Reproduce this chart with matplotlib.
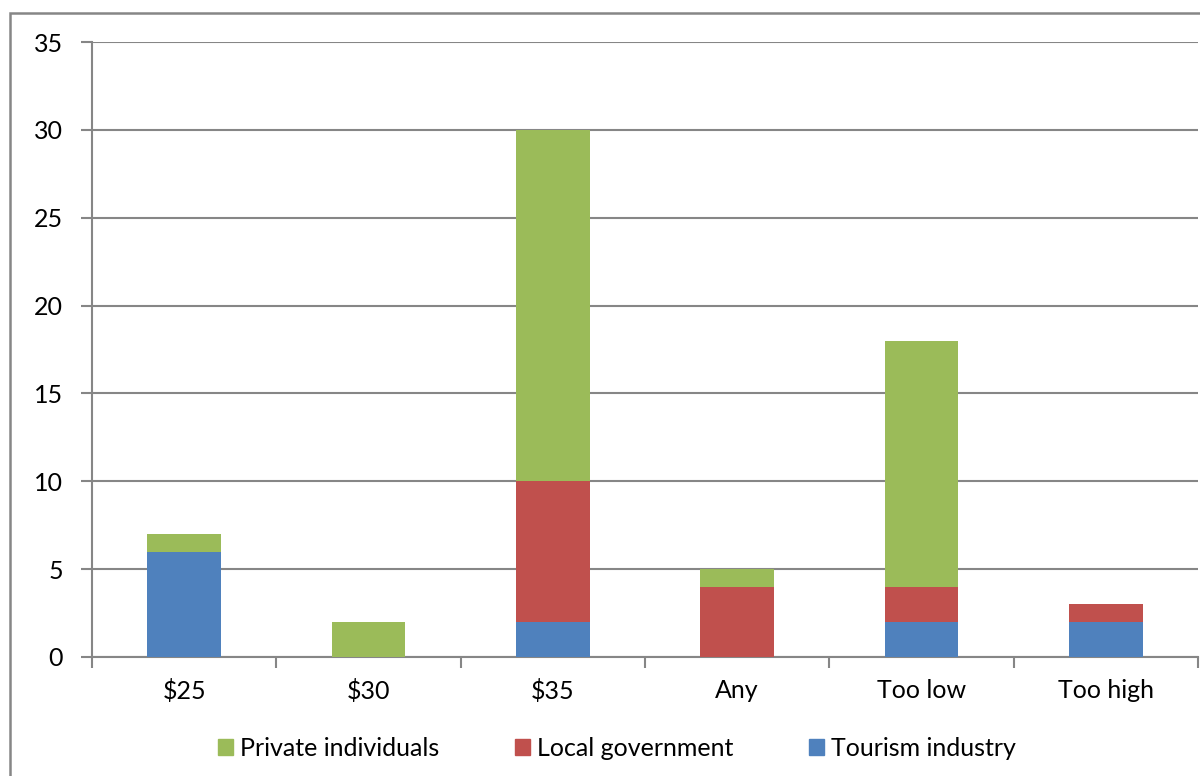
import matplotlib.pyplot as plt
from matplotlib.patches import Rectangle, Patch
import numpy as np

plt.rcParams['font.family'] = ['Lato', 'DejaVu Sans']

categories = ['$25', '$30', '$35', 'Any', 'Too low', 'Too high']
tourism = [6, 0, 2, 0, 2, 2]
local_gov = [0, 0, 8, 4, 2, 1]
private = [1, 2, 20, 1, 14, 0]

blue = '#4F81BD'
red = '#C0504D'
green = '#9BBB59'
grey = '#868686'

fig = plt.figure(figsize=(12, 7.76), dpi=100)
# outer chart border (cropped on the right and bottom)
fig.patches.append(Rectangle((10 / 1200, -0.1), 1.2, 1 - 13 / 776 + 0.1,
                             transform=fig.transFigure, fill=False,
                             edgecolor=grey, linewidth=1.8))

ax = fig.add_axes([92 / 1200, 1 - 657 / 776, (1198 - 92) / 1200, (657 - 42) / 776])
x = np.arange(len(categories))
w = 0.4
t = np.array(tourism)
l = np.array(local_gov)
p = np.array(private)
ax.bar(x, t, w, color=blue, zorder=3)
ax.bar(x, l, w, bottom=t, color=red, zorder=3)
ax.bar(x, p, w, bottom=t + l, color=green, zorder=3)

ax.set_xlim(-0.5, len(categories) - 0.5)
ax.set_ylim(0, 35)
ax.set_yticks(range(0, 36, 5))
ax.yaxis.grid(True, color=grey, linewidth=1.5)
ax.set_axisbelow(True)
for s in ['top', 'right']:
    ax.spines[s].set_visible(False)
for s in ['left', 'bottom']:
    ax.spines[s].set_color(grey)
    ax.spines[s].set_linewidth(1.5)

ax.set_xticks(x)
ax.set_xticklabels(categories, fontsize=18)
ax.tick_params(axis='x', length=0, pad=16)
ax.set_xticks(np.arange(-0.5, len(categories)), minor=True)
ax.tick_params(axis='x', which='minor', length=8, width=1.5, color=grey)
ax.tick_params(axis='y', length=8, width=1.5, color=grey, labelsize=18, pad=13)

handles = [Patch(color=green, label='Private individuals'),
           Patch(color=red, label='Local government'),
           Patch(color=blue, label='Tourism industry')]
fig.legend(handles=handles, loc='center', bbox_to_anchor=(617 / 1200, 1 - 748 / 776),
           ncol=3, frameon=False, fontsize=18, handlelength=0.6, handleheight=0.6,
           handletextpad=0.3, columnspacing=3)

fig.savefig('out.png', dpi=100)
